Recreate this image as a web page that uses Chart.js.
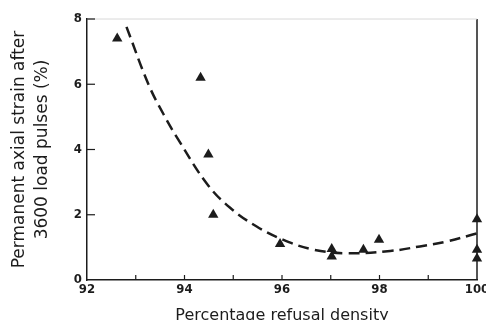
<!DOCTYPE html>
<html>
<head>
<meta charset="utf-8">
<script src="https://cdn.jsdelivr.net/npm/chart.js@4"></script>
<style>
html,body{margin:0;padding:0;background:#fff;}
#wrap{width:486px;height:320px;position:relative;}
</style>
</head>
<body>
<div id="wrap"><canvas id="c" width="486" height="320"></canvas></div>
<script>
// Measured points (triangles)
const densityPts = [92.62, 94.33, 94.49, 94.59, 95.96, 97.02, 97.02, 97.67, 97.99, 100, 100, 100];
const strainPts  = [7.40, 6.20, 3.85, 2.00, 1.10, 0.95, 0.72, 0.93, 1.23, 1.86, 0.93, 0.66];
// Fitted dashed curve
const curveX = [92.81, 93.26, 93.57, 93.87, 94.46, 94.93, 95.48, 96.03, 96.65, 97.33, 98.22, 98.83, 99.38, 100];
const curveY = [7.76, 6.00, 5.08, 4.31, 2.95, 2.22, 1.64, 1.23, 0.93, 0.82, 0.89, 1.03, 1.18, 1.43];
// Axis labels
const xTitle = 'Percentage refusal density';
const yTitle = ['Permanent axial strain after', '3600 load pulses (%)'];
const xLabelled = [92, 94, 96, 98, 100];

const ink = '#1c1c1c';
const tickFont = {family: '"Liberation Sans Narrow", "DejaVu Sans Condensed", sans-serif', size: 13, weight: 'bold'};

const frameTicks = {
  id: 'frameTicks',
  afterDraw(chart) {
    const ctx = chart.ctx, a = chart.chartArea;
    const xs = chart.scales.x, ys = chart.scales.y;
    ctx.save();
    ctx.strokeStyle = ink;
    ctx.lineWidth = 1.5;
    ctx.beginPath();
    ctx.moveTo(a.right, a.top); ctx.lineTo(a.right, a.bottom);
    ctx.stroke();
    ctx.strokeStyle = '#d8d8d8';
    ctx.lineWidth = 1;
    ctx.beginPath();
    ctx.moveTo(a.left, a.top); ctx.lineTo(a.right, a.top);
    ctx.stroke();
    ctx.strokeStyle = ink;
    ctx.lineWidth = 1.2;
    xs.ticks.forEach(t => {
      const px = xs.getPixelForValue(t.value);
      if (px <= a.left + 1 || px >= a.right - 1) return;
      ctx.beginPath(); ctx.moveTo(px, a.bottom); ctx.lineTo(px, a.bottom - 5); ctx.stroke();
    });
    ys.ticks.forEach(t => {
      const py = ys.getPixelForValue(t.value);
      if (py >= a.bottom - 1) return;
      ctx.beginPath(); ctx.moveTo(a.left, py); ctx.lineTo(a.left + 8, py); ctx.stroke();
    });
    ctx.restore();
  }
};

new Chart(document.getElementById('c'), {
  type: 'scatter',
  data: {
    datasets: [
      {
        label: 'fit',
        data: curveX.map((x, i) => ({x: x, y: curveY[i]})),
        showLine: true,
        borderColor: ink,
        borderWidth: 2.5,
        borderDash: [11, 6],
        tension: 0.4,
        pointRadius: 0,
        fill: false,
        clip: false
      },
      {
        label: 'measured',
        data: densityPts.map((x, i) => ({x: x, y: strainPts[i]})),
        showLine: false,
        pointStyle: 'triangle',
        pointRadius: 6,
        backgroundColor: ink,
        borderColor: ink,
        borderWidth: 0,
        clip: false
      }
    ]
  },
  options: {
    responsive: false,
    animation: false,
    events: [],
    layout: {padding: {left: 0, right: 9, top: 19, bottom: 0}},
    plugins: {legend: {display: false}, tooltip: {enabled: false}},
    scales: {
      x: {
        type: 'linear', min: 92, max: 100,
        grid: {display: false, drawTicks: false},
        border: {display: true, color: ink, width: 1.5},
        ticks: {
          stepSize: 1, autoSkip: false, maxRotation: 0, padding: 2,
          color: ink, font: tickFont,
          callback: v => xLabelled.includes(v) ? String(v) : ''
        },
        title: {display: true, text: xTitle, color: ink,
                font: {family: '"DejaVu Sans", sans-serif', size: 16},
                padding: {top: 0, bottom: -5}},
        afterFit: s => { s.height = 40; s.paddingRight = 0; s.paddingLeft = 0; }
      },
      y: {
        type: 'linear', min: 0, max: 8,
        grid: {display: false, drawTicks: false},
        border: {display: true, color: ink, width: 1.5},
        ticks: {stepSize: 2, padding: 5, color: ink, font: tickFont},
        title: {display: true, text: yTitle, color: ink,
                font: {family: '"DejaVu Sans", sans-serif', size: 17, lineHeight: 1.3},
                padding: {top: 9, bottom: 4}},
        afterFit: s => { s.width = 87; s.paddingTop = 0; s.paddingBottom = 0; }
      }
    }
  },
  plugins: [frameTicks]
});
</script>
</body>
</html>
